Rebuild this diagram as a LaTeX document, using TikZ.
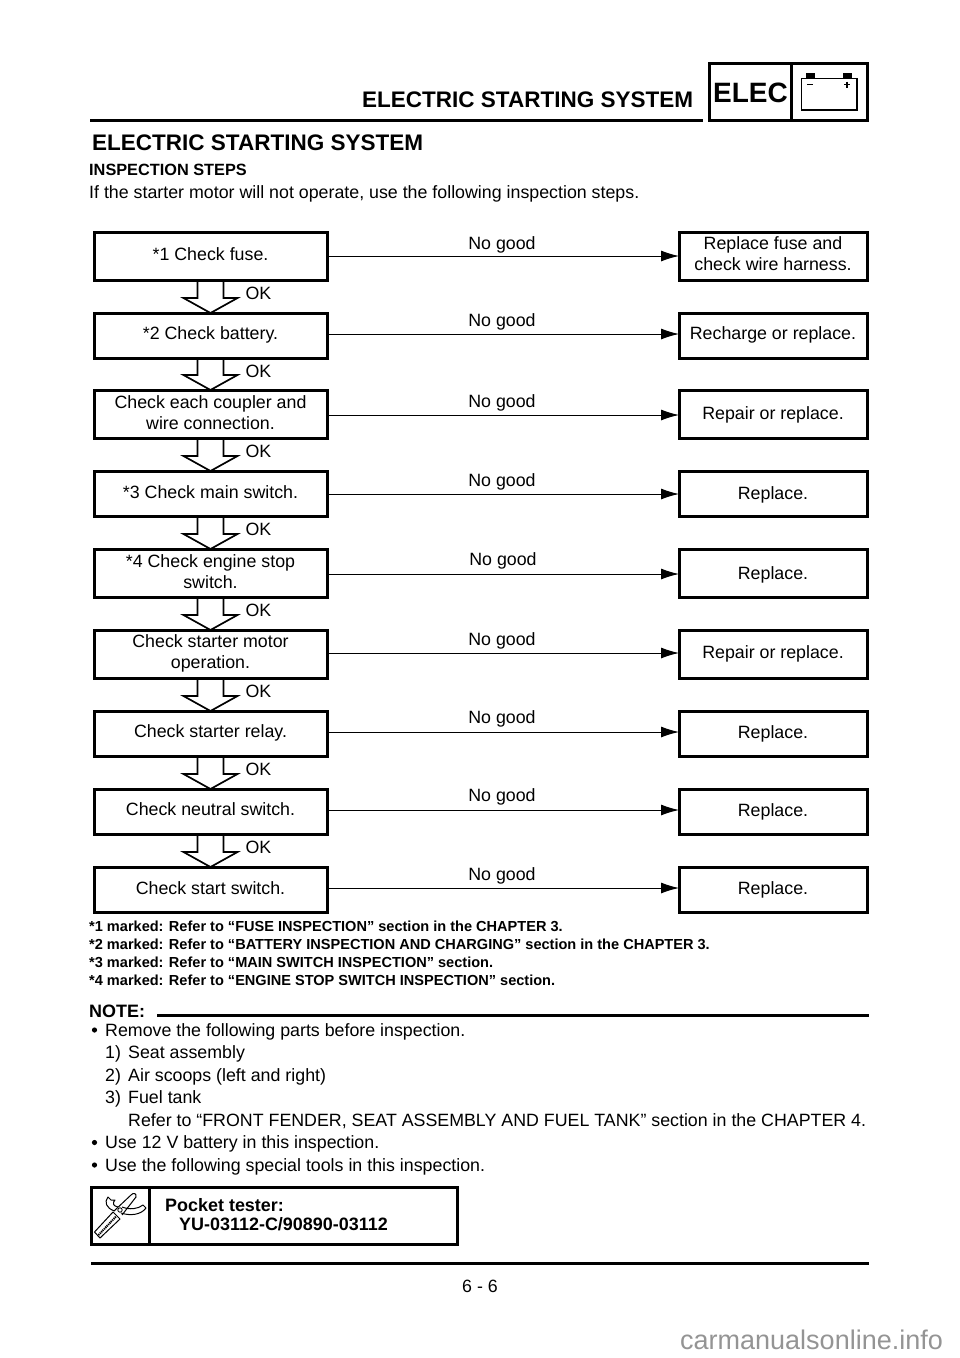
\documentclass[tikz,border=0pt]{standalone}
\usepackage{fontspec}
\setmainfont{Liberation Sans}
\usetikzlibrary{calc,arrows.meta}
\newcommand{\bodyfs}{\fontsize{17.8}{21}\selectfont}
\newcommand{\nbox}[7]{\node[flowbox,text depth=#6,minimum width={#4-#2},minimum height={#5-#3}] (#1) at ({(#2+#4)/2},{(#3+#5)/2}) {#7};}
\newcommand{\okarrow}[2]{%
 \draw[okline] ($(#1.south)+(-13,0)$) -- ($(#2.north)+(-13,-15)$) -- ($(#2.north)+(-27,-15)$) -- (#2.north) -- ($(#2.north)+(27,-15)$) -- ($(#2.north)+(13,-15)$) -- ($(#1.south)+(13,0)$);
 \node[okl] (ok#1) at ($(#1.south)+(48,13)$) {OK};}
\newcommand{\nogood}[5]{%
 \draw[ngline] ([yshift=#5]#1.east) -- ([yshift=#5]#1.east -| #2.west);
 \node[lab] (ng#1) at (#3,#4) {No good};}
\newcommand{\txt}[4]{\node[lab,anchor=base west] (#1) at (#2,#3) {#4};}
\tikzset{
 flowbox/.style={draw=black,line width=3,fill=white,align=center,inner sep=0,outer sep=0,font=\bodyfs},
 okline/.style={line width=1.7,line join=miter},
 okl/.style={inner sep=0,font=\bodyfs},
 lab/.style={inner sep=0,font=\bodyfs},
 ngline/.style={line width=1,-{Latex[length=18,width=11]}},
 heavy/.style={line width=3},
 bf/.style={lab,anchor=base west,font=\bfseries\fontsize{14.55}{17}\selectfont},
 bb/.style={lab,anchor=base west,font=\bfseries\fontsize{17.95}{21}\selectfont},
 hh/.style={lab,anchor=base west,font=\bfseries\fontsize{22.5}{25}\selectfont},
}
\begin{document}
\begin{tikzpicture}[x=1pt,y=-1pt]
\useasboundingbox (0,0) rectangle (960,1358);
% header
\node[hh] (hd) at (362,107) {ELECTRIC STARTING SYSTEM};
\draw[heavy] (90,120.5) -- (703,120.5);
\draw[heavy] (709,63) rectangle (867,120);
\draw[heavy] (791.5,63) -- (791.5,120);
\node[lab,anchor=base,font=\bfseries\fontsize{28}{30}\selectfont] (elec) at (750.5,102.5) {ELEC};
\draw[line width=1.3] (801.5,78.5) rectangle (857,110);
\fill (806,73) rectangle (815,78);
\fill (843,73) rectangle (852,78);
\draw[line width=1.3] (807,84.5) -- (813,84.5);
\draw[line width=1.3] (844,84.5) -- (850,84.5) (847,81.5) -- (847,87.5);
% titles
\node[hh] (ti) at (92,150) {ELECTRIC STARTING SYSTEM};
\node[lab,anchor=base west,font=\bfseries\fontsize{16.3}{18}\selectfont] (st) at (89,175.5) {INSPECTION STEPS};
\txt{intro}{89}{198}{If the starter motor will not operate, use the following inspection steps.}
% left boxes
\nbox{a}{94}{232}{327}{280}{4}{*1 Check fuse.}
\nbox{b}{94}{313}{327}{358}{5.8}{*2 Check battery.}
\nbox{c}{94}{390}{327}{438}{2}{Check each coupler and\\wire connection.}
\nbox{d}{94}{471}{327}{516}{2}{*3 Check main switch.}
\nbox{e}{94}{549}{327}{597}{2}{*4 Check engine stop\\switch.}
\nbox{f}{94}{630}{327}{678}{5.8}{Check starter motor\\operation.}
\nbox{g}{94}{711}{327}{756}{5.8}{Check starter relay.}
\nbox{h}{94}{789}{327}{834}{4}{Check neutral switch.}
\nbox{i}{94}{867}{327}{912}{2}{Check start switch.}
% right boxes
\nbox{ra}{679}{232}{867}{280}{4}{Replace fuse and\\check wire harness.}
\nbox{rb}{679}{313}{867}{358}{5.8}{Recharge or replace.}
\nbox{rc}{679}{390}{867}{438}{1.8}{Repair or replace.}
\nbox{rd}{679}{471}{867}{516}{0}{Replace.}
\nbox{re}{679}{549}{867}{597}{0}{Replace.}
\nbox{rf}{679}{630}{867}{678}{3.8}{Repair or replace.}
\nbox{rg}{679}{711}{867}{756}{2}{Replace.}
\nbox{rh}{679}{789}{867}{834}{2}{Replace.}
\nbox{ri}{679}{867}{867}{912}{2}{Replace.}
% OK arrows
\okarrow{a}{b}
\okarrow{b}{c}
\okarrow{c}{d}
\okarrow{d}{e}
\okarrow{e}{f}
\okarrow{f}{g}
\okarrow{g}{h}
\okarrow{h}{i}
% No good arrows
\nogood{a}{ra}{502}{245}{0}
\nogood{b}{rb}{502}{322}{1.5}
\nogood{c}{rc}{502}{403}{-1}
\nogood{d}{rd}{502}{482}{-0.5}
\nogood{e}{re}{503}{561}{-1}
\nogood{f}{rf}{502}{641}{1}
\nogood{g}{rg}{502}{719}{1.5}
\nogood{h}{rh}{502}{797}{1.5}
\nogood{i}{ri}{502}{876}{1.5}
% footnotes
\node[bf] (f1) at (89,931) {*1 marked: Refer to “FUSE INSPECTION” section in the CHAPTER 3.};
\node[bf] (f2) at (89,949) {*2 marked: Refer to “BATTERY INSPECTION AND CHARGING” section in the CHAPTER 3.};
\node[bf] (f3) at (89,967) {*3 marked: Refer to “MAIN SWITCH INSPECTION” section.};
\node[bf] (f4) at (89,985) {*4 marked: Refer to “ENGINE STOP SWITCH INSPECTION” section.};
% note
\node[bb] (note) at (89,1017) {NOTE:};
\draw[heavy] (157,1015) -- (869,1015);
\fill (94.5,1030) circle (2.6);
\txt{n1}{105}{1036}{Remove the following parts before inspection.}
\txt{n2a}{105}{1058}{1)}
\txt{n2}{128}{1058}{Seat assembly}
\txt{n3a}{105}{1081}{2)}
\txt{n3}{128}{1081}{Air scoops (left and right)}
\txt{n4a}{105}{1103}{3)}
\txt{n4}{128}{1103}{Fuel tank}
\txt{n5}{128}{1126}{Refer to “FRONT FENDER, SEAT ASSEMBLY AND FUEL TANK” section in the CHAPTER 4.}
\fill (94.5,1142.5) circle (2.6);
\txt{n6}{105}{1148}{Use 12 V battery in this inspection.}
\fill (94.5,1165) circle (2.6);
\txt{n7}{105}{1171}{Use the following special tools in this inspection.}
% tool box
\draw[heavy] (91,1187) rectangle (457,1244);
\draw[heavy] (149.5,1187) -- (149.5,1244);
\node[bb] (t1) at (165,1211) {Pocket tester:};
\node[bb] (t2) at (179,1230) {YU-03112-C/90890-03112};
% tool icon
\draw[line width=1,line join=round] (114,1211) -- (131,1195) .. controls (133,1192.5) and (137,1193) .. (136,1197) -- (122,1215);
\draw[line width=1,line join=round] (114.5,1211) .. controls (106,1208) and (104,1202) .. (108,1197) -- (111,1200) -- (115,1200) .. controls (112,1203) and (113,1206) .. (118,1207);
\draw[line width=1,line join=round] (122,1207) .. controls (130,1210) and (138,1209) .. (143,1205) -- (146,1208) .. controls (141,1215) and (130,1216) .. (121,1213);
\draw[line width=1,fill=white,line join=round] (100,1238) -- (94.5,1232) -- (113,1212) -- (120,1219) -- cycle;
\draw[line width=2,dash pattern=on 1.2 off 0.8] (98.5,1235) -- (116,1216.5);
\fill[white,draw=black,line width=0.8] (120,1210) circle (2.2);
% bottom
\draw[heavy] (91,1263) -- (869,1263);
\node[lab,anchor=base] (pg) at (480,1292) {6 - 6};
\node[lab,anchor=base west,text=black!42,font=\fontsize{27}{30}\selectfont] (wm) at (680,1349) {carmanualsonline.info};
\end{tikzpicture}
\end{document}
